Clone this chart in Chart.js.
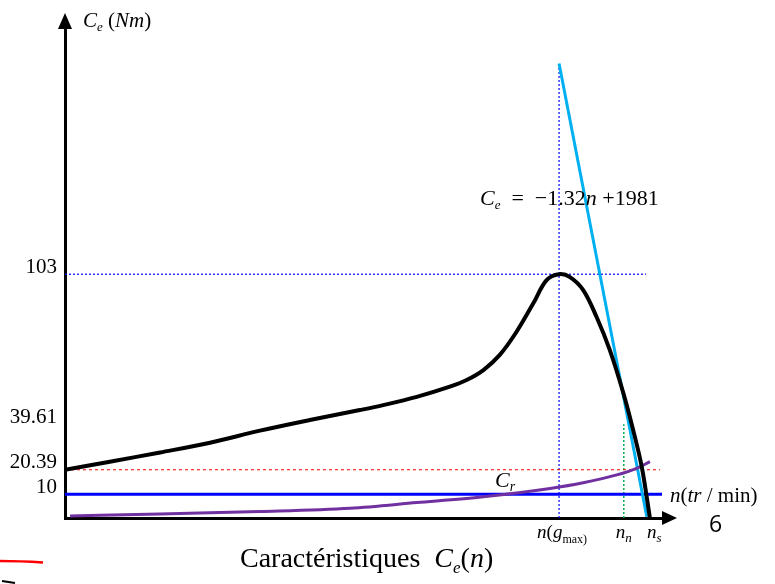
<!DOCTYPE html>
<html>
<head>
<meta charset="utf-8">
<script src="https://cdn.jsdelivr.net/npm/chart.js@4/dist/chart.umd.min.js"></script>
<style>
  html, body { margin: 0; padding: 0; background: #fff; }
  #wrap { width: 775px; height: 584px; position: relative; }
</style>
</head>
<body>
<div id="wrap"><canvas id="c" width="775" height="584"></canvas></div>
<script>
// ---- Data (speed n in tr/min, torque in Nm) ----
const torqueN  = [0, 115, 244, 372, 500, 628, 756, 816, 902, 987, 1030, 1073, 1115, 1158, 1201, 1235, 1267, 1295, 1329, 1363, 1397, 1432, 1457, 1479, 1500];
const torqueCe = [20.39, 23.8, 27.7, 31.8, 36.9, 41.4, 45.6, 47.7, 51.2, 55.5, 58.3, 62.5, 68.9, 78.7, 90.7, 100.5, 103, 101.8, 96.3, 85.0, 71.0, 52.7, 37.2, 21.7, 0];

const loadN  = [13, 244, 500, 731, 902, 1073, 1244, 1329, 1415, 1466, 1500];
const loadCr = [0.85, 1.7, 2.7, 4.1, 6.5, 9.0, 12.5, 14.9, 18.2, 21.0, 23.8];

const tangentN  = [1267, 1492];
const tangentCe = [192, 0.5];

const yTickValues = [10, 20.39, 39.61, 103];
const nGmax = 1267;   // n(g_max)
const nNom  = 1433;   // n_n
const nSync = 1500;   // n_s
const cMax  = 103;
const cStart = 20.39;
const cNom  = 39.61;
const cLoad = 10;
const xMax = 1531;
const yMax = 206.6;

const pts = (xs, ys) => xs.map((x, i) => ({ x: x, y: ys[i] }));

const SER = '"Liberation Serif", "Times New Roman", serif';

function drawRich(ctx, x, y, segs) {
  for (const s of segs) {
    ctx.font = s.f;
    ctx.fillText(s.t, x + (s.dx || 0), y + (s.dy || 0));
    x += ctx.measureText(s.t).width + (s.dx || 0);
  }
}

const decor = {
  id: 'decor',
  afterDraw(chart) {
    const ctx = chart.ctx;
    const a = chart.chartArea;
    const xs = chart.scales.x;
    ctx.save();
    ctx.fillStyle = '#000';
    // axis arrows
    ctx.beginPath();
    ctx.moveTo(a.left, 13); ctx.lineTo(a.left - 7, a.top); ctx.lineTo(a.left + 7, a.top); ctx.closePath(); ctx.fill();
    ctx.beginPath();
    ctx.moveTo(a.right + 15, a.bottom); ctx.lineTo(a.right, a.bottom - 7); ctx.lineTo(a.right, a.bottom + 7); ctx.closePath(); ctx.fill();

    ctx.textBaseline = 'alphabetic';
    ctx.textAlign = 'left';
    // y axis title
    drawRich(ctx, 83, 27, [
      { t: 'C', f: 'italic 21px ' + SER },
      { t: 'e', f: 'italic 13px ' + SER, dy: 4 },
      { t: ' (', f: '21px ' + SER },
      { t: 'Nm', f: 'italic 21px ' + SER },
      { t: ')', f: '21px ' + SER }
    ]);
    // x axis title
    drawRich(ctx, 670, 502, [
      { t: 'n', f: 'italic 21px ' + SER },
      { t: '(', f: '21px ' + SER },
      { t: 'tr', f: 'italic 21px ' + SER },
      { t: ' / min)', f: '21px ' + SER }
    ]);
    // equation of tangent
    drawRich(ctx, 480, 205, [
      { t: 'C', f: 'italic 22px ' + SER },
      { t: 'e', f: 'italic 13px ' + SER, dy: 4 },
      { t: '  =  \u22121.32', f: '22px ' + SER },
      { t: 'n', f: 'italic 22px ' + SER },
      { t: ' +1981', f: '22px ' + SER }
    ]);
    // C_r label
    drawRich(ctx, 495, 487, [
      { t: 'C', f: 'italic 22px ' + SER },
      { t: 'r', f: 'italic 14px ' + SER, dy: 4 }
    ]);
    // x-axis special speed labels
    drawRich(ctx, xs.getPixelForValue(nGmax) - 22, 538, [
      { t: 'n', f: 'italic 19px ' + SER },
      { t: '(', f: '19px ' + SER },
      { t: 'g', f: 'italic 19px ' + SER },
      { t: 'max)', f: '12px ' + SER, dy: 5 }
    ]);
    drawRich(ctx, xs.getPixelForValue(nNom) - 8, 538, [
      { t: 'n', f: 'italic 19px ' + SER },
      { t: 'n', f: 'italic 13px ' + SER, dy: 4 }
    ]);
    drawRich(ctx, xs.getPixelForValue(nSync) - 3, 538, [
      { t: 'n', f: 'italic 19px ' + SER },
      { t: 's', f: 'italic 13px ' + SER, dy: 4 }
    ]);
    // page number
    ctx.font = '23px "Open Sans", "Liberation Sans", sans-serif';
    ctx.fillText('6', 709, 532);
    // caption
    drawRich(ctx, 240, 567, [
      { t: 'Caractéristiques  ', f: '28px ' + SER },
      { t: 'C', f: 'italic 28px ' + SER },
      { t: 'e', f: 'italic 17px ' + SER, dy: 6 },
      { t: '(', f: '28px ' + SER },
      { t: 'n', f: 'italic 28px ' + SER },
      { t: ')', f: '28px ' + SER }
    ]);
    // slide decoration
    ctx.strokeStyle = '#ff0000';
    ctx.lineWidth = 2.5;
    ctx.beginPath(); ctx.moveTo(0, 561); ctx.quadraticCurveTo(20, 561, 43, 562.5); ctx.stroke();
    ctx.strokeStyle = '#000';
    ctx.lineWidth = 2;
    ctx.beginPath(); ctx.moveTo(2, 581); ctx.lineTo(15, 583); ctx.stroke();
    ctx.restore();
  }
};

const dotted = (c, w, d) => ({ borderColor: c, borderWidth: w, borderDash: d });

new Chart(document.getElementById('c'), {
  type: 'scatter',
  data: {
    datasets: [
      { label: 'Ce(n)', data: pts(torqueN, torqueCe), showLine: true, borderColor: '#000', borderWidth: 4, tension: 0.35, pointRadius: 0 },
      { label: 'Cr(n)', data: pts(loadN, loadCr), showLine: true, borderColor: '#7030A0', borderWidth: 3, cubicInterpolationMode: 'monotone', pointRadius: 0 },
      { label: 'tangent', data: pts(tangentN, tangentCe), showLine: true, borderColor: '#00B0F0', borderWidth: 3, pointRadius: 0 },
      { label: 'C=10', data: [{ x: 0, y: cLoad }, { x: xMax, y: cLoad }], showLine: true, borderColor: '#0000FF', borderWidth: 3, pointRadius: 0 },
      Object.assign({ label: 'C=20.39', data: [{ x: 0, y: cStart }, { x: 1526, y: cStart }], showLine: true, pointRadius: 0 }, dotted('#FF0000', 1, [3, 3])),
      Object.assign({ label: 'C=103', data: [{ x: 0, y: cMax }, { x: 1490, y: cMax }], showLine: true, pointRadius: 0 }, dotted('#0000FF', 1.2, [2, 2])),
      Object.assign({ label: 'n(gmax)', data: [{ x: nGmax, y: 0 }, { x: nGmax, y: tangentCe[0] }], showLine: true, pointRadius: 0 }, dotted('#0000FF', 1.2, [2, 2])),
      Object.assign({ label: 'nn', data: [{ x: nNom, y: 0 }, { x: nNom, y: cNom }], showLine: true, pointRadius: 0 }, dotted('#00B050', 1.5, [2, 2]))
    ]
  },
  options: {
    responsive: false,
    animation: false,
    layout: { padding: { left: 0, top: 29, right: 113, bottom: 66 } },
    plugins: { legend: { display: false }, tooltip: { enabled: false } },
    scales: {
      x: {
        type: 'linear', min: 0, max: xMax,
        grid: { display: false, drawTicks: false },
        ticks: { display: false },
        border: { display: true, color: '#000', width: 3 },
        afterFit: s => { s.height = 0; }
      },
      y: {
        type: 'linear', min: 0, max: yMax,
        grid: { display: false, drawTicks: false },
        border: { display: true, color: '#000', width: 3 },
        afterBuildTicks: s => { s.ticks = yTickValues.map(v => ({ value: v })); },
        ticks: {
          color: '#000', padding: 8, labelOffset: -7,
          font: { family: SER, size: 21 },
          callback: v => String(v)
        },
        afterFit: s => { s.width = 65; }
      }
    }
  },
  plugins: [decor]
});
</script>
</body>
</html>
